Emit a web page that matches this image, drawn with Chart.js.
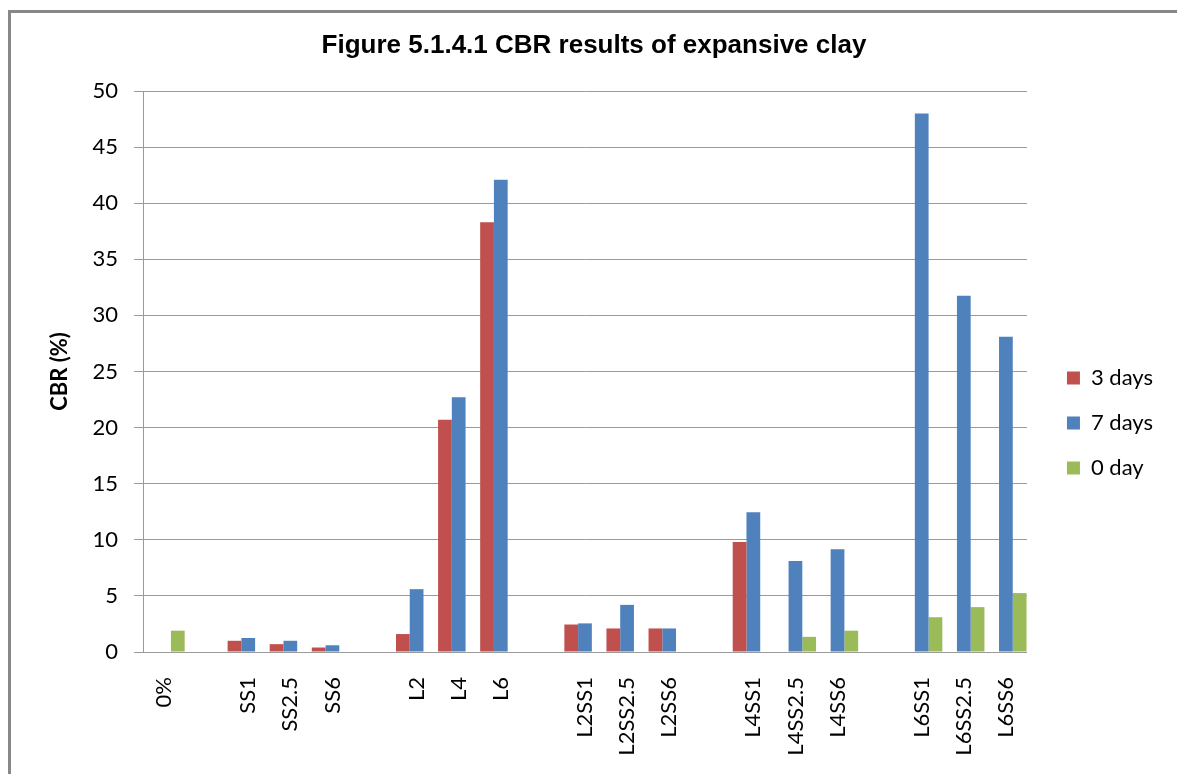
<!DOCTYPE html>
<html>
<head>
<meta charset="utf-8">
<script src="https://cdn.jsdelivr.net/npm/chart.js@4/dist/chart.umd.min.js"></script>
<style>
  body { margin: 0; background: #fff; }
  #wrap { position: relative; width: 1177px; height: 774px; overflow: hidden; }
  #frame {
    position: absolute; left: 8px; top: 10px; width: 1300px; height: 900px;
    border-left: 3px solid #888; border-top: 3px solid #888; pointer-events: none;
  }
</style>
</head>
<body>
<div id="wrap">
  <canvas id="cbrChart"></canvas>
  <div id="frame"></div>
</div>
<script>
// categories (empty strings are the gaps between mix groups)
const categories = [
  '0%', '',
  'SS1', 'SS2.5', 'SS6', '',
  'L2', 'L4', 'L6', '',
  'L2SS1', 'L2SS2.5', 'L2SS6', '',
  'L4SS1', 'L4SS2.5', 'L4SS6', '',
  'L6SS1', 'L6SS2.5', 'L6SS6'
];

// CBR (%) values
const days3 = [null, null, 1.0, 0.7, 0.4, null, 1.6, 20.7, 38.3, null, 2.45, 2.1, 2.1, null, 9.8, null, null, null, null, null, null];
const days7 = [null, null, 1.25, 1.0, 0.6, null, 5.6, 22.7, 42.1, null, 2.55, 4.2, 2.1, null, 12.45, 8.1, 9.15, null, 48.0, 31.75, 28.1];
const days0 = [1.9, null, null, null, null, null, null, null, null, null, null, null, null, null, null, 1.35, 1.9, null, 3.1, 4.0, 5.25];

const yTicks = [0, 5, 10, 15, 20, 25, 30, 35, 40, 45, 50];

const gridGray = '#9a9a9a';
const labelFont = "Lato, 'Open Sans', sans-serif";

new Chart(document.getElementById('cbrChart'), {
  type: 'bar',
  data: {
    labels: categories,
    datasets: [
      { label: '3 days', data: days3, backgroundColor: '#C0504D' },
      { label: '7 days', data: days7, backgroundColor: '#4F81BD' },
      { label: '0 day', data: days0, backgroundColor: '#9BBB59' }
    ]
  },
  options: {
    responsive: true,
    maintainAspectRatio: false,
    animation: false,
    layout: { padding: { left: 25, top: 0, right: 14, bottom: 0 } },
    datasets: {
      bar: { categoryPercentage: 0.98, barPercentage: 1.0 }
    },
    plugins: {
      title: {
        display: true,
        text: 'Figure 5.1.4.1 CBR results of expansive clay',
        color: '#000',
        font: { family: "'Liberation Sans', Arial, sans-serif", size: 26, weight: 'bold' },
        padding: { top: 30.4, bottom: 29.4 }
      },
      // empty spacer between plot area and legend
      subtitle: {
        display: true,
        position: 'right',
        text: '',
        weight: 500,
        font: { size: 17, lineHeight: 1 },
        padding: 0
      },
      legend: {
        position: 'right',
        align: 'center',
        weight: 1000,
        title: { display: true, text: '', padding: { top: 57.6, bottom: 0 } },
        labels: {
          boxWidth: 13,
          boxHeight: 13,
          padding: 23,
          color: '#000',
          font: { family: labelFont, size: 22 }
        }
      },
      tooltip: { enabled: false }
    },
    scales: {
      x: {
        grid: { display: false, drawTicks: false },
        border: { display: true, color: gridGray, width: 1 },
        ticks: {
          autoSkip: false,
          minRotation: 90,
          maxRotation: 90,
          padding: 25,
          color: '#000',
          font: { family: labelFont, size: 22 }
        },
        afterFit: (scale) => { scale.height = 122; }
      },
      y: {
        min: 0,
        max: 50,
        afterBuildTicks: (scale) => { scale.ticks = yTicks.map(v => ({ value: v })); },
        grid: { color: gridGray, lineWidth: 1, tickLength: 9, drawTicks: true },
        border: { display: true, color: gridGray, width: 1 },
        ticks: {
          padding: 16,
          color: '#000',
          font: { family: labelFont, size: 22 }
        },
        title: {
          display: true,
          text: 'CBR (%)',
          color: '#000',
          font: { family: labelFont, size: 22, weight: 'bold' },
          padding: { top: 21.8, bottom: 0 }
        },
        afterFit: (scale) => { scale.width = 118; }
      }
    }
  }
});
</script>
</body>
</html>
